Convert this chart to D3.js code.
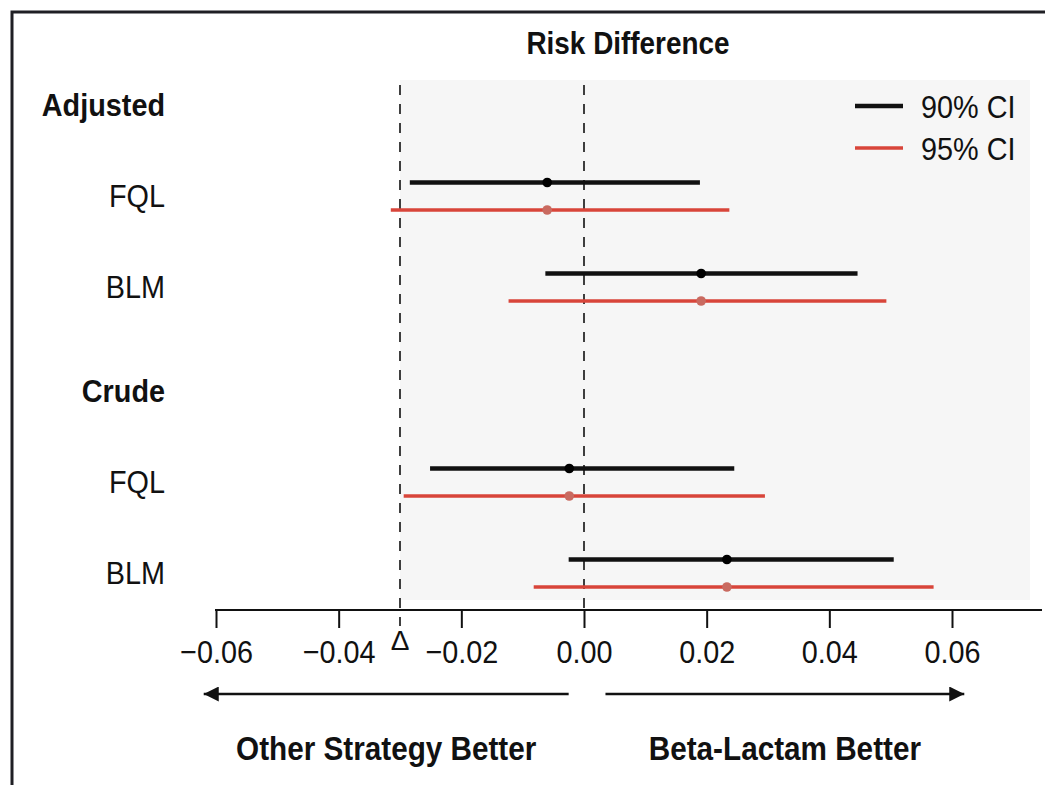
<!DOCTYPE html>
<html>
<head>
<meta charset="utf-8">
<script src="https://cdn.jsdelivr.net/npm/d3@7"></script>
<style>
  body { margin: 0; background: #fff; }
  text { font-family: "Liberation Sans", Arial, sans-serif; fill: #111; }
</style>
</head>
<body>
<div id="chart"></div>
<script>
// data
const groups = ["Adjusted", "Crude"];
const strategies = ["FQL", "BLM"];
const ciLevels = ["90% CI", "95% CI"];
// [group][strategy]
const estimates = [[-0.0060, 0.0191], [-0.0024, 0.0233]];
const lower90 = [[-0.0284, -0.0063], [-0.0251, -0.0025]];
const upper90 = [[0.0189, 0.0446], [0.0245, 0.0505]];
const lower95 = [[-0.0315, -0.0123], [-0.0294, -0.0082]];
const upper95 = [[0.0237, 0.0493], [0.0295, 0.0570]];
const xTicks = [-0.06, -0.04, -0.02, 0, 0.02, 0.04, 0.06];
const nonInfMargin = -0.03;
const arrowLeft = [-0.0025, -0.062];
const arrowRight = [0.0035, 0.062];
const sideLabels = ["Other Strategy Better", "Beta-Lactam Better"];

const W = 1045, H = 785;
const colors = {"90% CI": "#111111", "95% CI": "#d8453a"};
const dotColors = {"90% CI": "#000000", "95% CI": "#c96a60"};
const widths = {"90% CI": 4.5, "95% CI": 3.5};
const squeeze = 0.9; // the original type is a condensed face

const svg = d3.select("#chart").append("svg")
    .attr("width", W)
    .attr("height", H);

// text placed with a horizontal squeeze
function label(x0, y0, str, size, anchor, bold) {
  return svg.append("text")
    .attr("transform", `translate(${x0}, ${y0}) scale(${squeeze}, 1)`)
    .attr("dy", "0.35em")
    .attr("text-anchor", anchor)
    .attr("font-size", size)
    .attr("font-weight", bold ? "bold" : "normal")
    .text(str);
}

// scales
const x = d3.scaleLinear().domain([-0.06, 0.06]).range([216, 952]);
const yGroup = d3.scalePoint().domain(groups).range([105, 391]);
const yRow = d3.scalePoint().domain(["header"].concat(strategies)).range([0, 182]);
const yCi = d3.scalePoint().domain(ciLevels).range([-13.5, 14]);
const axisY = 610;

// build rows
const rows = [];
groups.forEach((g, gi) => {
  strategies.forEach((s, si) => {
    rows.push({group: g, strategy: s, ci: "90% CI", est: estimates[gi][si], lo: lower90[gi][si], hi: upper90[gi][si]});
    rows.push({group: g, strategy: s, ci: "95% CI", est: estimates[gi][si], lo: lower95[gi][si], hi: upper95[gi][si]});
  });
});
const yOf = d => yGroup(d.group) + yRow(d.strategy) + yCi(d.ci);

// light shaded plot panel
svg.append("rect")
    .attr("x", x(nonInfMargin))
    .attr("y", 80)
    .attr("width", 1030 - x(nonInfMargin))
    .attr("height", axisY - 10 - 80)
    .attr("fill", "#f6f6f6");

// frame (right and bottom edges are cut off in the picture)
svg.append("rect")
    .attr("x", 12).attr("y", 12)
    .attr("width", W + 50).attr("height", H + 50)
    .attr("fill", "none")
    .attr("stroke", "#1f1f24")
    .attr("stroke-width", 3);

// title
label(628, 43, "Risk Difference", 31, "middle", true);

// dashed reference lines
svg.append("line")
    .attr("x1", x(nonInfMargin)).attr("x2", x(nonInfMargin))
    .attr("y1", 85).attr("y2", axisY + 16)
    .attr("stroke", "#111").attr("stroke-width", 1.6)
    .attr("stroke-dasharray", "10,9");
svg.append("line")
    .attr("x1", x(0)).attr("x2", x(0))
    .attr("y1", 85).attr("y2", axisY)
    .attr("stroke", "#111").attr("stroke-width", 1.6)
    .attr("stroke-dasharray", "10,9");

// group headers and strategy labels
groups.forEach(g => {
  label(165, yGroup(g) + yRow("header"), g, 32, "end", true);
  strategies.forEach(s => {
    label(165, yGroup(g) + yRow(s), s, 32, "end", false);
  });
});

// confidence intervals
svg.selectAll(".ci")
  .data(rows)
  .join("line")
    .attr("class", "ci")
    .attr("x1", d => x(d.lo))
    .attr("x2", d => x(d.hi))
    .attr("y1", yOf)
    .attr("y2", yOf)
    .attr("stroke", d => colors[d.ci])
    .attr("stroke-width", d => widths[d.ci]);

svg.selectAll(".est")
  .data(rows)
  .join("circle")
    .attr("class", "est")
    .attr("cx", d => x(d.est))
    .attr("cy", yOf)
    .attr("r", 4.8)
    .attr("fill", d => dotColors[d.ci]);

// x axis
const xAxis = svg.append("g")
    .attr("transform", `translate(0, ${axisY})`)
    .call(d3.axisBottom(x)
      .tickValues(xTicks)
      .tickSize(18)
      .tickPadding(12)
      .tickFormat(d3.format(".2f")));
xAxis.attr("font-family", null).attr("font-size", null);
xAxis.select(".domain").remove();
xAxis.selectAll(".tick line").attr("stroke", "#111").attr("stroke-width", 2);
xAxis.selectAll(".tick text")
    .attr("font-size", 32)
    .attr("fill", "#111")
    .attr("transform", `scale(${squeeze}, 1)`);
xAxis.append("line")
    .attr("x1", x(-0.06) - 1).attr("x2", 1042)
    .attr("y1", 0).attr("y2", 0)
    .attr("stroke", "#111").attr("stroke-width", 2);

// delta marker
svg.append("text")
    .attr("x", x(nonInfMargin))
    .attr("y", 650)
    .attr("text-anchor", "middle")
    .attr("font-size", 28)
    .text("Δ");

// direction arrows
svg.append("defs").append("marker")
    .attr("id", "arrow")
    .attr("viewBox", "0 0 10 10")
    .attr("refX", 10).attr("refY", 5)
    .attr("markerWidth", 9).attr("markerHeight", 6)
    .attr("markerUnits", "strokeWidth")
    .attr("orient", "auto")
  .append("path")
    .attr("d", "M0,0 L10,5 L0,10 Z")
    .attr("fill", "#111");

const arrowY = 694;
[arrowLeft, arrowRight].forEach((a, i) => {
  svg.append("line")
    .attr("x1", x(a[0])).attr("x2", x(a[1]))
    .attr("y1", arrowY).attr("y2", arrowY)
    .attr("stroke", "#111").attr("stroke-width", 2.5)
    .attr("marker-end", "url(#arrow)");
  label((x(a[0]) + x(a[1])) / 2, 748, sideLabels[i], 33, "middle", true);
});

// legend
ciLevels.forEach((c, i) => {
  const ly = 106 + i * 42;
  svg.append("line")
    .attr("x1", 855).attr("x2", 903)
    .attr("y1", ly).attr("y2", ly)
    .attr("stroke", colors[c])
    .attr("stroke-width", widths[c]);
  label(921, ly + 1, c, 32, "start", false);
});
</script>
</body>
</html>
